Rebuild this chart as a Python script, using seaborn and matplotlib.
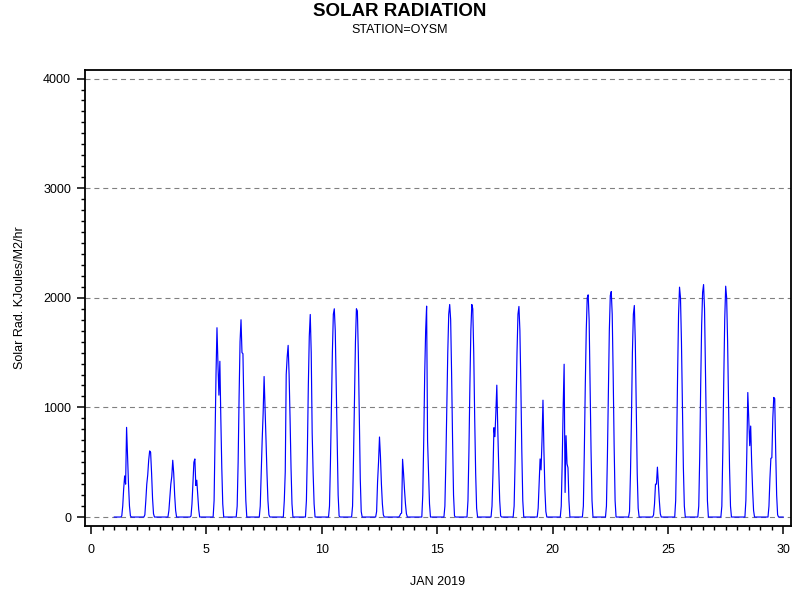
import numpy as np
import pandas as pd
import matplotlib
matplotlib.use("Agg")
import matplotlib.pyplot as plt
from matplotlib.ticker import MultipleLocator
import seaborn as sns

# ---- data ----
title = "SOLAR RADIATION"
subtitle = "STATION=OYSM"
x_label = "JAN 2019"
y_label = "Solar Rad. KJoules/M2/hr"
x_ticks = [0, 5, 10, 15, 20, 25, 30]
y_ticks = [0, 1000, 2000, 3000, 4000]

days = list(range(1, 30))
first_daylight_hour = 7   # values below are for hours 7..19; other hours are 0 (night)
daylight = [
    [0, 10, 100, 260, 375, 300, 818, 560, 300, 100, 10, 0, 0],          # 1
    [0, 20, 150, 300, 385, 520, 603, 590, 400, 170, 30, 0, 0],          # 2
    [0, 0, 60, 180, 300, 370, 518, 400, 200, 60, 0, 0, 0],              # 3
    [0, 10, 120, 320, 500, 530, 288, 336, 200, 70, 0, 0, 0],            # 4
    [0, 150, 700, 1300, 1727, 1400, 1112, 1421, 900, 450, 120, 0, 0],   # 5
    [0, 100, 500, 1100, 1600, 1800, 1500, 1490, 1000, 500, 150, 0, 0],  # 6
    [0, 100, 400, 700, 945, 1282, 1000, 700, 400, 150, 20, 0, 0],       # 7
    [0, 0, 150, 412, 1300, 1460, 1566, 1300, 900, 450, 120, 0, 0],      # 8
    [0, 150, 600, 1200, 1650, 1848, 1500, 763, 400, 120, 0, 0, 0],      # 9
    [0, 100, 500, 1000, 1500, 1850, 1900, 1700, 1200, 650, 200, 10, 0], # 10
    [0, 100, 550, 1100, 1600, 1900, 1880, 1500, 900, 350, 50, 0, 0],    # 11
    [0, 0, 50, 321, 500, 730, 550, 300, 120, 20, 0, 0, 0],              # 12
    [0, 0, 10, 30, 36, 527, 400, 250, 120, 30, 0, 0, 0],                # 13
    [0, 0, 200, 700, 1300, 1700, 1924, 694, 400, 120, 0, 0, 0],         # 14
    [0, 100, 500, 1000, 1500, 1850, 1939, 1800, 1300, 700, 200, 10, 0], # 15
    [0, 150, 600, 1200, 1700, 1939, 1900, 1500, 900, 400, 80, 0, 0],    # 16
    [0, 0, 100, 400, 815, 733, 950, 1203, 800, 450, 150, 10, 0],        # 17
    [0, 100, 500, 1000, 1500, 1850, 1921, 1700, 1200, 600, 150, 0, 0],  # 18
    [0, 0, 80, 300, 530, 430, 700, 1066, 600, 250, 50, 0, 0],           # 19
    [0, 0, 100, 500, 1000, 1394, 224, 742, 485, 450, 150, 0, 0],        # 20
    [0, 100, 600, 1200, 1700, 2000, 2027, 1800, 1200, 600, 150, 0, 0],  # 21
    [0, 100, 550, 1150, 1700, 2020, 2057, 1850, 1300, 650, 150, 0, 0],  # 22
    [0, 50, 400, 900, 1500, 1850, 1930, 1600, 1000, 400, 80, 0, 0],     # 23
    [0, 0, 20, 120, 300, 300, 455, 300, 150, 30, 0, 0, 0],              # 24
    [0, 150, 650, 1300, 1850, 2097, 2000, 1600, 1000, 450, 100, 0, 0],  # 25
    [0, 100, 550, 1200, 1750, 2050, 2121, 1900, 1300, 650, 150, 0, 0],  # 26
    [0, 100, 600, 1250, 1800, 2106, 2000, 1600, 1000, 450, 100, 0, 0],  # 27
    [0, 0, 150, 600, 1136, 885, 651, 830, 500, 250, 60, 0, 0],          # 28
    [0, 0, 100, 350, 536, 540, 900, 1091, 1080, 600, 200, 20, 0],       # 29
]

# ---- build hourly table ----
xs, ys = [], []
for d, vals in zip(days, daylight):
    for h in range(24):
        k = h - first_daylight_hour
        v = vals[k] if 0 <= k < len(vals) else 0
        xs.append(d + h / 24)
        ys.append(v)
xs.append(days[-1] + 1)
ys.append(0)
df = pd.DataFrame({"day": xs, "rad": ys})

# ---- plot ----
sns.set_theme(style="ticks")
plt.rcParams["font.family"] = ["Liberation Sans", "DejaVu Sans"]

fig = plt.figure(figsize=(8, 6), dpi=100)
ax = fig.add_axes([0.10625, 0.1233, 0.8825, 0.76])

for yv in y_ticks:
    ax.axhline(yv, color="#808080", lw=0.8, ls=(0, (4.5, 3.5)), zorder=1)

sns.lineplot(data=df, x="day", y="rad", ax=ax, color="#0000FF", lw=0.85,
             estimator=None, zorder=3)

ax.set_xlim(-0.26, 30.33)
ax.set_ylim(-82, 4078)
ax.set_xticks(x_ticks)
ax.set_yticks(y_ticks)
ax.xaxis.set_minor_locator(MultipleLocator(0.5))
ax.yaxis.set_minor_locator(MultipleLocator(100))
ax.tick_params(axis="both", which="major", length=6, width=1.1, color="black",
               labelsize=9, labelcolor="black", direction="out")
ax.tick_params(axis="x", which="major", pad=7)
ax.tick_params(axis="y", which="major", pad=4)
ax.tick_params(axis="both", which="minor", length=3.2, width=1.0, color="black",
               direction="out")
for s in ax.spines.values():
    s.set_visible(True)
    s.set_color("black")
    s.set_linewidth(1.3)

ax.set_xlabel(x_label, fontsize=9, labelpad=14, color="black")
ax.set_ylabel(y_label, fontsize=9, labelpad=12, color="black")
ax.grid(False)

fig.text(0.5, 1 - 11 / 600, title, ha="center", va="center", fontsize=13.5,
         fontweight="bold", color="black")
fig.text(0.5, 1 - 30 / 600, subtitle, ha="center", va="center", fontsize=9,
         color="black")

fig.savefig("out.png", dpi=100)
